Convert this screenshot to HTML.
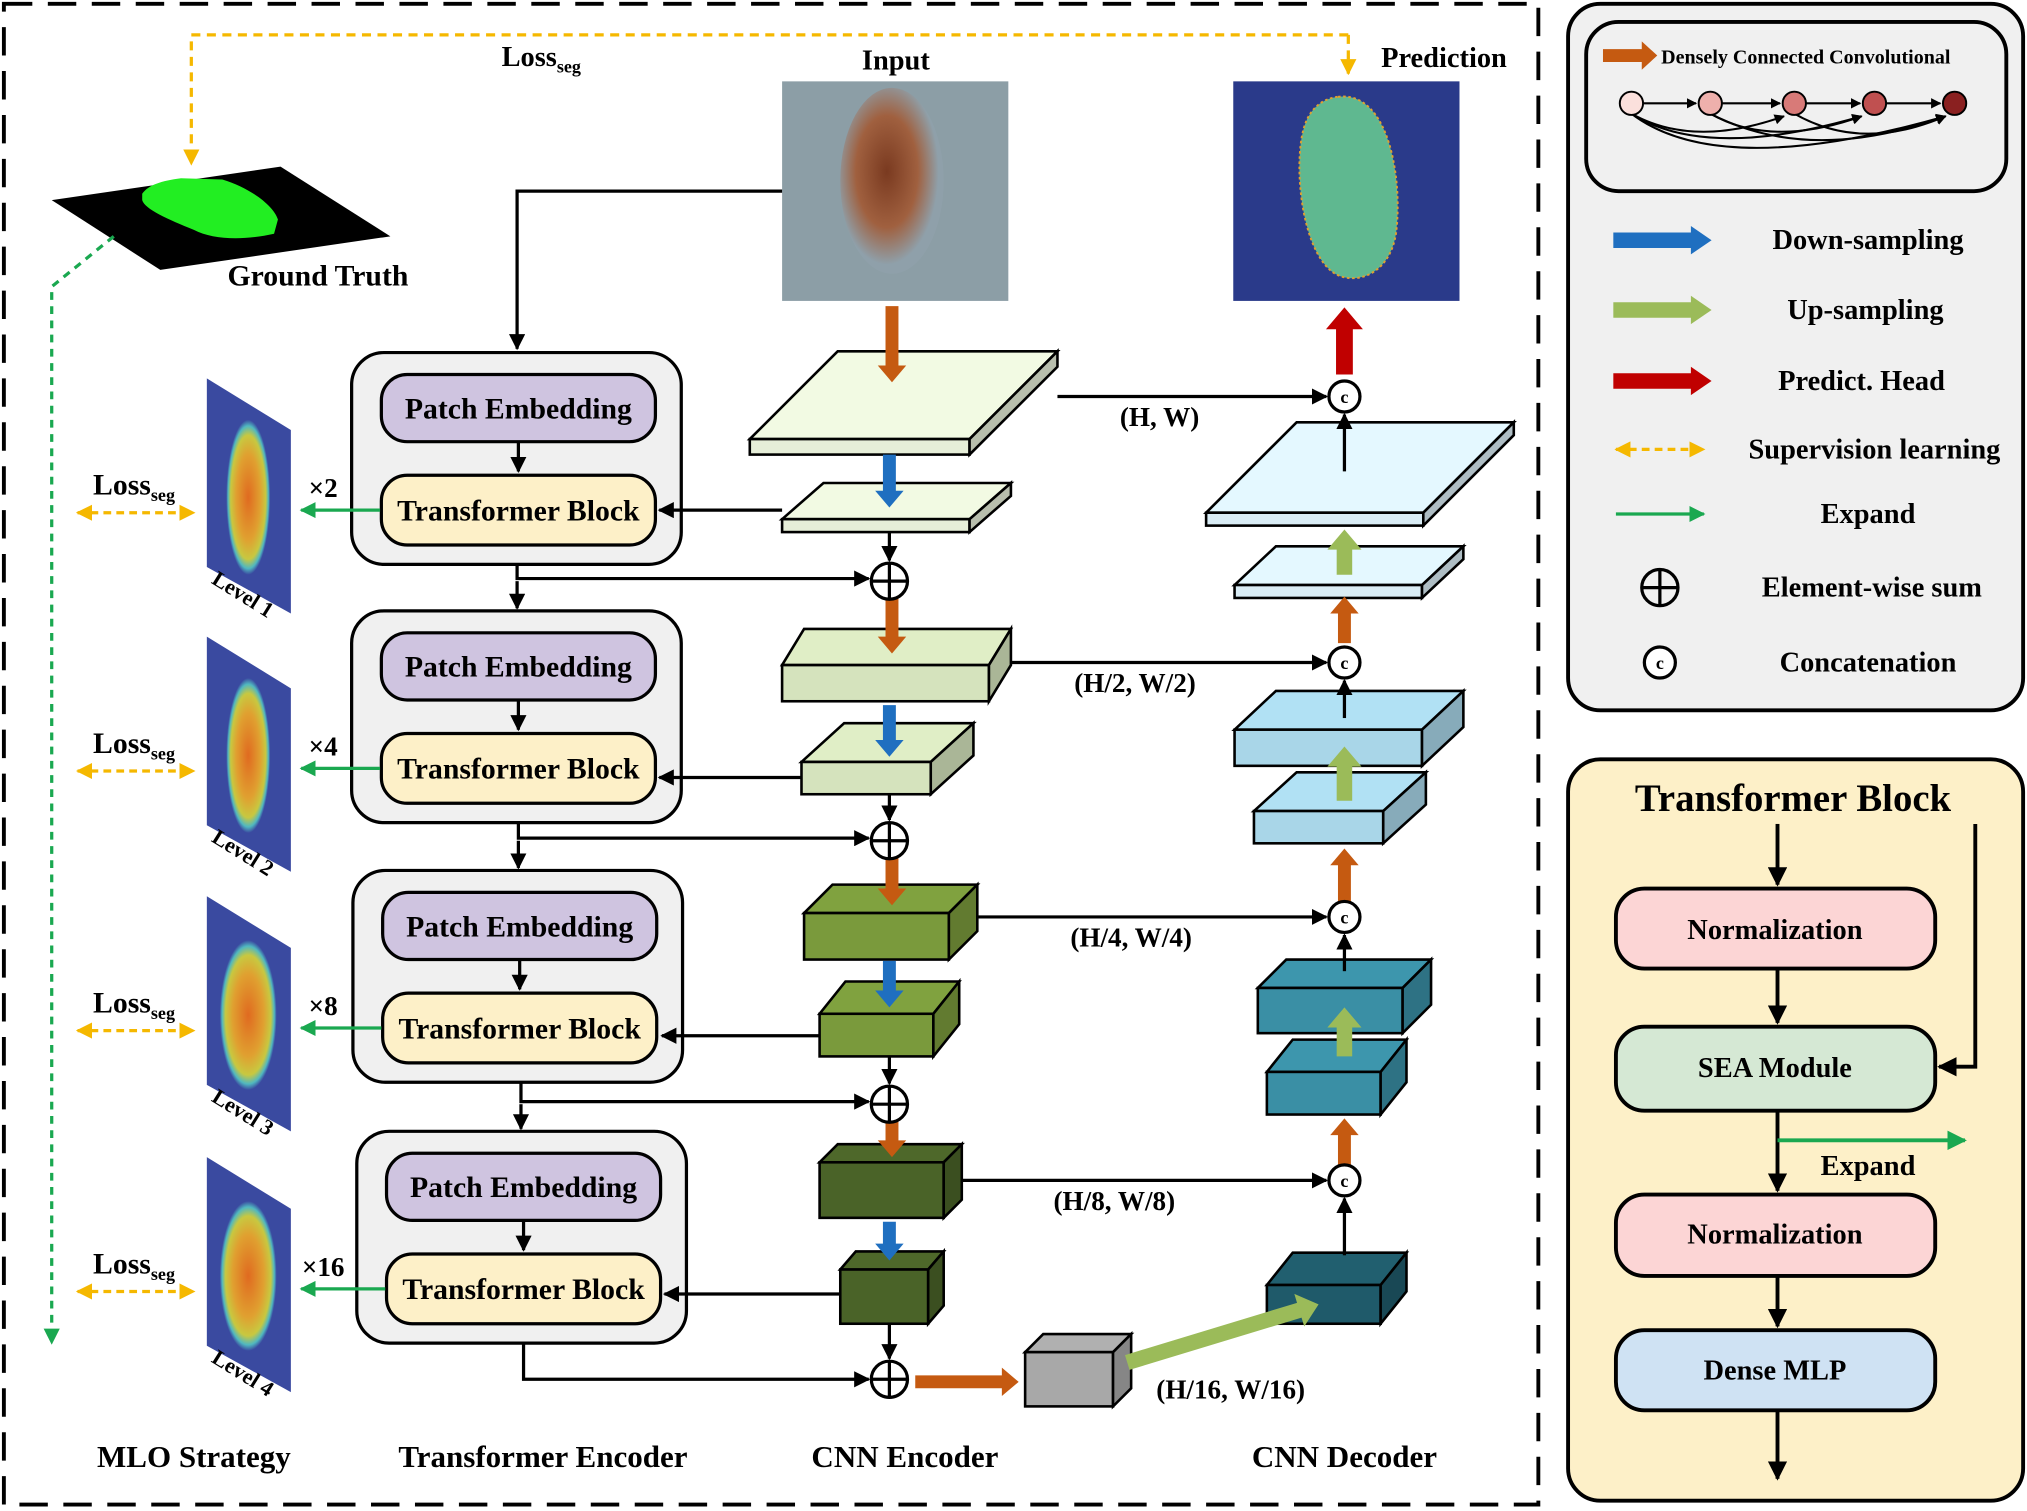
<!DOCTYPE html>
<html><head><meta charset="utf-8"><style>
html,body{margin:0;padding:0;background:#fff;}
svg{display:block;}
text{font-family:"Liberation Serif",serif;font-weight:bold;fill:#000;}
</style></head><body>
<svg id="fig" width="2027" height="1511" viewBox="0 0 1568 1170" preserveAspectRatio="none" xmlns="http://www.w3.org/2000/svg">
<defs>
<marker id="ah" viewBox="0 0 10 10" refX="9" refY="5" markerWidth="5" markerHeight="5" orient="auto"><path d="M0,0L10,5L0,10z" fill="#000"/></marker>
<marker id="ahg" viewBox="0 0 10 10" refX="9" refY="5" markerWidth="5" markerHeight="5" orient="auto"><path d="M0,0L10,5L0,10z" fill="#1aa850"/></marker>
<marker id="ahy" viewBox="0 0 10 10" refX="9" refY="5" markerWidth="5" markerHeight="5" orient="auto-start-reverse"><path d="M0,0L10,5L0,10z" fill="#f5b800"/></marker>
<radialGradient id="skin" cx="0.45" cy="0.45" r="0.5"><stop offset="0" stop-color="#7a3a20"/><stop offset="0.6" stop-color="#a0603f"/><stop offset="1" stop-color="#8fa0aa"/></radialGradient>
<radialGradient id="heat1" cx="0.5" cy="0.5" r="0.5"><stop offset="0" stop-color="#e06a20"/><stop offset="0.55" stop-color="#e0a030"/><stop offset="0.8" stop-color="#c8c840"/><stop offset="0.92" stop-color="#50b8c0"/><stop offset="1" stop-color="#3a4aa0"/></radialGradient>
</defs>

<rect x="3" y="3" width="1187" height="1162" fill="none" stroke="#000" stroke-width="3" stroke-dasharray="22,12"/>

<rect x="1213" y="3" width="352" height="547" rx="25" fill="#f0f0f0" stroke="#000" stroke-width="3"/>
<rect x="1227" y="17" width="325" height="131" rx="25" fill="#f0f0f0" stroke="#000" stroke-width="3"/>
<polygon points="1240,38 1270,38 1270,32 1282,43 1270,54 1270,48 1240,48" fill="#c55a11"/>
<text x="1285" y="49" font-size="15.5">Densely Connected Convolutional</text>
<g fill="none" stroke="#000" stroke-width="1.6">
<path d="M1262,88 Q1330,140 1505,90" marker-end="url(#ah)"/>
<path d="M1262,88 Q1320,125 1440,90" marker-end="url(#ah)"/>
<path d="M1262,88 Q1310,115 1380,90" marker-end="url(#ah)"/>
<path d="M1323,88 Q1400,128 1505,90" marker-end="url(#ah)"/>
<path d="M1388,88 Q1440,118 1505,90" marker-end="url(#ah)"/>
<path d="M1323,88 Q1370,115 1440,90" marker-end="url(#ah)"/>
<line x1="1271" y1="80" x2="1312" y2="80" marker-end="url(#ah)"/>
<line x1="1332" y1="80" x2="1377" y2="80" marker-end="url(#ah)"/>
<line x1="1397" y1="80" x2="1439" y2="80" marker-end="url(#ah)"/>
<line x1="1459" y1="80" x2="1501" y2="80" marker-end="url(#ah)"/>
</g>
<circle cx="1262" cy="80" r="9" fill="#fbe0dc" stroke="#000" stroke-width="1.5"/>
<circle cx="1323" cy="80" r="9" fill="#eeb0ac" stroke="#000" stroke-width="1.5"/>
<circle cx="1388" cy="80" r="9" fill="#d87a78" stroke="#000" stroke-width="1.5"/>
<circle cx="1450" cy="80" r="9" fill="#c05050" stroke="#000" stroke-width="1.5"/>
<circle cx="1512" cy="80" r="9" fill="#8a2020" stroke="#000" stroke-width="1.5"/>

<g id="legend"></g>

<rect x="1213" y="588" width="352" height="574" rx="25" fill="#fdf0c8" stroke="#000" stroke-width="3"/>
<text x="1387" y="628" font-size="30" text-anchor="middle">Transformer Block</text>
<g stroke="#000" stroke-width="3" fill="none">
<line x1="1375" y1="638" x2="1375" y2="685" marker-end="url(#ah)"/>
<line x1="1375" y1="750" x2="1375" y2="792" marker-end="url(#ah)"/>
<line x1="1375" y1="860" x2="1375" y2="922" marker-end="url(#ah)"/>
<line x1="1375" y1="988" x2="1375" y2="1027" marker-end="url(#ah)"/>
<line x1="1375" y1="1092" x2="1375" y2="1145" marker-end="url(#ah)"/>
<polyline points="1528,638 1528,826 1500,826" marker-end="url(#ah)"/>
</g>
<line x1="1375" y1="883" x2="1520" y2="883" stroke="#1aa850" stroke-width="3" marker-end="url(#ahg)"/>
<text x="1445" y="910" font-size="22" text-anchor="middle">Expand</text>
<rect x="1250" y="688" width="247" height="62" rx="22" fill="#fcd5d5" stroke="#000" stroke-width="3"/>
<text x="1373" y="727" font-size="22" text-anchor="middle">Normalization</text>
<rect x="1250" y="795" width="247" height="65" rx="22" fill="#d5e8d4" stroke="#000" stroke-width="3"/>
<text x="1373" y="834" font-size="22" text-anchor="middle">SEA Module</text>
<rect x="1250" y="925" width="247" height="63" rx="22" fill="#fcd5d5" stroke="#000" stroke-width="3"/>
<text x="1373" y="963" font-size="22" text-anchor="middle">Normalization</text>
<rect x="1250" y="1030" width="247" height="62" rx="22" fill="#cfe2f3" stroke="#000" stroke-width="3"/>
<text x="1373" y="1068" font-size="22" text-anchor="middle">Dense MLP</text>

<polyline points="1043,27 148,27 148,127" fill="none" stroke="#f5b800" stroke-width="2.5" stroke-dasharray="7,5" marker-end="url(#ahy)"/>
<polyline points="1043,27 1043,57" fill="none" stroke="#f5b800" stroke-width="2.5" stroke-dasharray="7,5" marker-end="url(#ahy)"/>
<text x="388" y="51" font-size="22">Loss<tspan font-size="14" dy="5">seg</tspan></text>
<text x="693" y="54" font-size="22" text-anchor="middle">Input</text>
<text x="1117" y="52" font-size="22" text-anchor="middle">Prediction</text>

<rect x="605" y="63" width="175" height="170" fill="#8c9ea6"/>
<ellipse cx="690" cy="140" rx="40" ry="72" fill="url(#skin)"/>
<rect x="954" y="63" width="175" height="170" fill="#2a3a8a"/>
<path d="M1035,75 C1075,70 1085,140 1080,180 C1075,215 1045,222 1030,210 C1005,190 1000,120 1010,95 C1015,82 1025,76 1035,75Z" fill="#5fb890" stroke="#e0a030" stroke-width="1.5" stroke-dasharray="2,2"/>

<polygon points="40,155 217,129 302,183 124,209" fill="#000"/>
<path d="M110,150 C115,143 125,140 140,138 L172,139 C195,146 212,160 215,170 L212,181 C190,186 165,186 150,178 C130,170 112,162 110,155Z" fill="#22ee22"/>
<text x="176" y="221" font-size="23" text-anchor="start">Ground Truth</text>
<polyline points="88,183 40,222 40,1040" fill="none" stroke="#1aa850" stroke-width="2.5" stroke-dasharray="6,5" marker-end="url(#ahg)"/>

<polyline points="605,148 400,148 400,270" fill="none" stroke="#000" stroke-width="2.5" marker-end="url(#ah)"/>

<g id="dyn"></g>

<text x="150" y="1136" font-size="24" text-anchor="middle">MLO Strategy</text>
<text x="420" y="1136" font-size="24" text-anchor="middle">Transformer Encoder</text>
<text x="700" y="1136" font-size="24" text-anchor="middle">CNN Encoder</text>
<text x="1040" y="1136" font-size="24" text-anchor="middle">CNN Decoder</text>
</svg>
<script>
const NS="http://www.w3.org/2000/svg";
const dyn=document.getElementById('dyn');
function mk(tag,attrs,parent){const e=document.createElementNS(NS,tag);for(const k in attrs)e.setAttribute(k,attrs[k]);(parent||dyn).appendChild(e);return e;}
function txt(x,y,s,size,anchor,parent){const t=mk('text',{x:x,y:y,'font-size':size,'text-anchor':anchor||'middle'},parent);t.textContent=s;return t;}
function shade(c,f){const n=parseInt(c.slice(1),16);let r=(n>>16)&255,g=(n>>8)&255,b=n&255;r=Math.round(r*f);g=Math.round(g*f);b=Math.round(b*f);return 'rgb('+Math.min(r,255)+','+Math.min(g,255)+','+Math.min(b,255)+')';}
function box(x,y,w,h,dx,dy,c,name){
  const g=mk('g',{});
  
  
  mk('polygon',{points:`${x},${y} ${x+dx},${y-dy} ${x+w+dx},${y-dy} ${x+w},${y}`,fill:shade(c,1.05),stroke:'#000','stroke-width':2},g);
  mk('rect',{x:x,y:y,width:w,height:h,fill:c,stroke:'#000','stroke-width':2},g);
  mk('polygon',{points:`${x+w},${y} ${x+w+dx},${y-dy} ${x+w+dx},${y+h-dy} ${x+w},${y+h}`,fill:shade(c,0.8),stroke:'#000','stroke-width':2},g);
}
function blockArrow(x1,y1,x2,y2,c,wid,name){
  const dx=x2-x1,dy=y2-y1,L=Math.hypot(dx,dy),ux=dx/L,uy=dy/L,px=-uy,py=ux;
  const hw=wid/2,hl=wid*1.3,hh=wid*1.1;
  const bx=x2-ux*hl,by=y2-uy*hl;
  const pts=[[x1+px*hw,y1+py*hw],[bx+px*hw,by+py*hw],[bx+px*hh,by+py*hh],[x2,y2],[bx-px*hh,by-py*hh],[bx-px*hw,by-py*hw],[x1-px*hw,y1-py*hw]];
  const p=mk('polygon',{points:pts.map(q=>q.join(',')).join(' '),fill:c});
  
  
}
function line(pts,name,color,dash,marker){
  const p=mk('polyline',{points:pts,fill:'none',stroke:color||'#000','stroke-width':2.5,'marker-end':marker||'url(#ah)'});
  if(dash)p.setAttribute('stroke-dasharray',dash);
  
  
}
function plus(cx,cy){
  const g=mk('g',{});
  
  
  mk('circle',{cx:cx,cy:cy,r:14,fill:'#fff',stroke:'#000','stroke-width':2.5},g);
  mk('line',{x1:cx-14,y1:cy,x2:cx+14,y2:cy,stroke:'#000','stroke-width':2.5},g);
  mk('line',{x1:cx,y1:cy-14,x2:cx,y2:cy+14,stroke:'#000','stroke-width':2.5},g);
}
function concat(cx,cy,parent){
  const g=mk('g',{},parent);
  
  
  mk('circle',{cx:cx,cy:cy,r:12,fill:'#fff',stroke:'#000','stroke-width':2.5},g);
  const t=mk('text',{x:cx,y:cy+5,'font-size':14,'text-anchor':'middle'},g);t.textContent='c';
}

const encY=[273,473,674,876];
const mult=['×2','×4','×8','×16'];
encY.forEach((y,i)=>{
  const x=272+(i>=2?1+i-2:0)+(i==3?2:0);
  const r=mk('rect',{x:x,y:y,width:255,height:164,rx:25,fill:'#f0f0f0',stroke:'#000','stroke-width':2.5});
  
  
  const pe=mk('rect',{x:x+23,y:y+17,width:212,height:52,rx:20,fill:'#cfc4e0',stroke:'#000','stroke-width':2.5});
  
  
  txt(x+129,y+51,'Patch Embedding',23);
  mk('line',{x1:x+129,y1:y+69,x2:x+129,y2:y+92,stroke:'#000','stroke-width':2.5,'marker-end':'url(#ah)'});
  const tb=mk('rect',{x:x+23,y:y+95,width:212,height:54,rx:20,fill:'#fdf0c8',stroke:'#000','stroke-width':2.5});
  
  
  txt(x+129,y+130,'Transformer Block',23);
  const ly=y+20;
  const lm=mk('polygon',{points:`160,${ly} 225,${ly+40} 225,${ly+182} 160,${ly+146}`,fill:'#3a4aa0'});
  
  
  mk('ellipse',{cx:192,cy:ly+92,rx:i<2?17:22,ry:i<2?60:58,fill:'url(#heat1)'});
  const lt=txt(185,ly+172,'Level '+(i+1),17);
  lt.setAttribute('transform',`rotate(32 185 ${ly+172})`);
  txt(250,y+112,mult[i],21);
  line(`${x+22},${y+122} 233,${y+122}`,'expand-arrow-'+(i+1),'#1aa850',null,'url(#ahg)');
  const lo=mk('text',{x:72,y:y+110,'font-size':23,'text-anchor':'start'});
  lo.innerHTML='Loss<tspan font-size="14" dy="5">seg</tspan>';
  const sd=mk('line',{x1:60,y1:y+124,x2:150,y2:y+124,stroke:'#f5b800','stroke-width':2.5,'stroke-dasharray':'6,4','marker-end':'url(#ahy)','marker-start':'url(#ahy)'});
  
  
});

box(580,340,170,12,68,68,'#e6eed8','enc-slab-1');
box(605,402,145,10,32,28,'#e6eed8','enc-slab-2');
box(605,515,160,28,17,28,'#d5e3bd','enc-slab-3');
box(620,590,100,25,33,30,'#d5e3bd','enc-slab-4');
box(622,707,112,36,22,22,'#7a9a3c','enc-slab-5');
box(634,785,88,33,20,25,'#7a9a3c','enc-slab-6');
box(634,900,96,43,14,14,'#4a6328','enc-slab-7');
box(650,983,68,42,12,14,'#4a6328','enc-slab-8');
box(793,1047,68,42,14,14,'#a8a8a8','bottleneck');
box(933,397,168,10,70,70,'#d9ecf5','dec-slab-1');
box(955,453,145,10,32,30,'#d9ecf5','dec-slab-2');
box(955,565,145,28,32,30,'#a9d6e8','dec-slab-3');
box(970,628,100,25,33,30,'#a9d6e8','dec-slab-4');
box(973,765,112,35,22,22,'#3a8fa5','dec-slab-5');
box(980,830,88,33,20,25,'#3a8fa5','dec-slab-6');
box(980,995,88,30,20,25,'#1f5a6a','dec-slab-7');

[[237,296],[462,506],[664,701],[868,896]].forEach((p,i)=>blockArrow(690,p[0],690,p[1],'#c55a11',10,'downsample-conv-arrow-'+(i+1)));
[[352,393],[546,586],[744,780],[946,976]].forEach((p,i)=>blockArrow(688,p[0],688,p[1],'#1f6fc0',10,'downsampling-arrow-'+(i+1)));
blockArrow(708,1070,788,1070,'#c55a11',10,'bottleneck-arrow');
blockArrow(872,1055,1020,1010,'#9bbb59',12,'upsampling-arrow-bottleneck');
[[445,410],[620,578],[818,780]].forEach((p,i)=>blockArrow(1040,p[0],1040,p[1],'#9bbb59',12,'upsampling-arrow-'+(i+1)));
[[498,462],[698,657],[902,866]].forEach((p,i)=>blockArrow(1040,p[0],1040,p[1],'#c55a11',10,'decoder-conv-arrow-'+(i+1)));
blockArrow(1040,290,1040,238,'#c00000',13,'predict-head-arrow');

const sumY=[450,651,855,1068];
sumY.forEach((y,i)=>plus(688,y));
[[400,437,450],[401,637,651],[403,838,855]].forEach((a,i)=>{
  line(`${a[0]},${a[1]} ${a[0]},${a[2]-2} 672,${a[2]-2}`,'skip-to-sum-'+(i+1));
  line(`${a[0]},${a[2]} ${a[0]},${encY[i+1]-2}`,'stage-link-'+(i+1));
});
line(`405,1040 405,1068 672,1068`,'skip-to-sum-4');
line(`688,412 688,434`,'enc-to-sum-1');line(`688,615 688,635`,'enc-to-sum-2');line(`688,818 688,839`,'enc-to-sum-3');line(`688,1025 688,1052`,'enc-to-sum-4');
line(`605,395 510,395`,'cnn-to-tb-1');line(`620,602 510,602`,'cnn-to-tb-2');line(`634,802 512,802`,'cnn-to-tb-3');line(`650,1002 514,1002`,'cnn-to-tb-4');
const cY=[307,513,710,914];
const skipLbl=['(H, W)','(H/2, W/2)','(H/4, W/4)','(H/8, W/8)'];
const sx=[818,782,756,744];
const lblX=[897,878,875,862];
cY.forEach((y,i)=>{
  line(`${sx[i]},${y} 1026,${y}`,'skip-connection-'+(i+1));
  txt(lblX[i],y+23,skipLbl[i],21);
  concat(1040,y);
});
txt(952,1083,'(H/16, W/16)',21);
line('1040,365 1040,321','dec-to-concat-1');
line('1040,556 1040,527','dec-to-concat-2');line('1040,752 1040,724','dec-to-concat-3');line('1040,972 1040,928','dec-to-concat-4');

const lg=document.getElementById('legend');
const legY=[186,240,295,348,398];
const legLabels=['Down-sampling','Up-sampling','Predict. Head','Supervision learning','Expand'];
const legX=[1445,1443,1440,1450,1445];
function ba(parent,x1,x2,y,c,w){const hw=w/2;const p=mk('polygon',{points:`${x1},${y-hw} ${x2-16},${y-hw} ${x2-16},${y-hw-5} ${x2},${y} ${x2-16},${y+hw+5} ${x2-16},${y+hw} ${x1},${y+hw}`,fill:c},parent);return p;}
let a;
a=ba(lg,1248,1324,186,'#1f6fc0',12);
a=ba(lg,1248,1324,240,'#9bbb59',12);
a=ba(lg,1248,1324,295,'#c00000',12);
a=mk('line',{x1:1250,y1:348,x2:1318,y2:348,stroke:'#f5b800','stroke-width':2.5,'stroke-dasharray':'6,4','marker-end':'url(#ahy)','marker-start':'url(#ahy)'},lg);
a=mk('line',{x1:1250,y1:398,x2:1318,y2:398,stroke:'#1aa850','stroke-width':2.5,'marker-end':'url(#ahg)'},lg);
legY.forEach((y,i)=>txt(legX[i],y+7,legLabels[i],22,'middle',lg));
const pg=mk('g',{},lg);


mk('circle',{cx:1284,cy:455,r:14,fill:'none',stroke:'#000','stroke-width':2.5},pg);
mk('line',{x1:1270,y1:455,x2:1298,y2:455,stroke:'#000','stroke-width':2.5},pg);
mk('line',{x1:1284,y1:441,x2:1284,y2:469,stroke:'#000','stroke-width':2.5},pg);
txt(1448,462,'Element-wise sum',22,'middle',lg);
concat(1284,513,lg);
txt(1445,520,'Concatenation',22,'middle',lg);
</script>
</body></html>
